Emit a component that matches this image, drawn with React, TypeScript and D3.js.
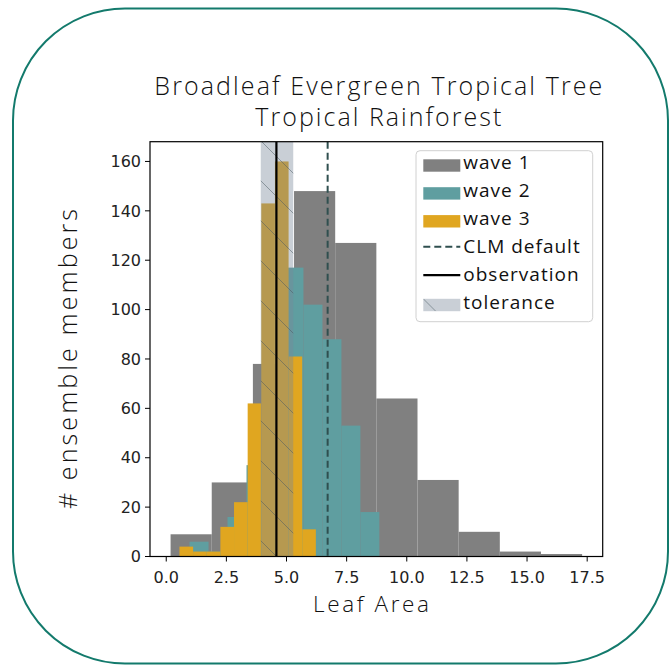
import React from "react";
import * as d3 from "d3";

// ---- data ----
const wave1Counts = [9, 30, 78, 148, 127, 64, 31, 10, 2, 1];
const wave1Range = [0.18, 17.29];
const wave2Counts = [6, 2, 16, 37, 61, 117, 102, 88, 53, 18];
const wave2Range = [0.97, 8.86];
const wave3Counts = [4, 2, 2, 12, 22, 62, 143, 160, 81, 11];
const wave3Range = [0.55, 6.22];
const clmDefault = 6.71;
const observation = 4.58;
const toleranceRange = [3.93, 5.28];
const xTicks = [0, 2.5, 5, 7.5, 10, 12.5, 15, 17.5];
const yTicks = [0, 20, 40, 60, 80, 100, 120, 140, 160];
const titleLines = ["Broadleaf Evergreen Tropical Tree", "Tropical Rainforest"];
const legendItems = ["wave 1", "wave 2", "wave 3", "CLM default", "observation", "tolerance"];

const W = 670;
const H = 666;
const M = { left: 150, right: 602.7, top: 141.7, bottom: 556.5 };

const C1 = "#808080";
const C2 = "#5f9ea0";
const C3 = "#e0a620";
const CLM = "#2f4f4f";
const TOL = "#778899";
const BORDER = "#137a6c";

function bins(counts: number[], range: number[]) {
  const w = (range[1] - range[0]) / counts.length;
  return counts.map((c, i) => ({ x0: range[0] + i * w, x1: range[0] + (i + 1) * w, c }));
}

export default function App() {
  const span = wave1Range[1] - wave1Range[0];
  const x = d3
    .scaleLinear()
    .domain([wave1Range[0] - 0.05 * span, wave1Range[1] + 0.05 * span])
    .range([M.left, M.right]);
  const y = d3.scaleLinear().domain([0, 168]).range([M.bottom, M.top]);

  const series = [
    { b: bins(wave1Counts, wave1Range), color: C1 },
    { b: bins(wave2Counts, wave2Range), color: C2 },
    { b: bins(wave3Counts, wave3Range), color: C3 },
  ];

  const tickFont = "'DejaVu Sans', sans-serif";
  const labelFont = "'Open Sans', sans-serif";

  const lgX = 416;
  const lgY = 150.7;
  const rowY = (i: number) => 165.5 + i * 27.9;
  const titleLens = [448, 246];

  return (
    <svg
      width={W}
      height={H}
      style={{ position: "absolute", left: 0, top: 0, background: "#fff" }}
    >
      <defs>
        <pattern id="hatch" patternUnits="userSpaceOnUse" width={40} height={40}>
          <path
            d="M-10,-10 L50,50 M-10,30 L10,50 M30,-10 L50,10"
            stroke="#4a5a60"
            strokeOpacity={0.5}
            strokeWidth={1}
          />
        </pattern>
        <clipPath id="plotclip">
          <rect x={M.left} y={M.top} width={M.right - M.left} height={M.bottom - M.top} />
        </clipPath>
        <clipPath id="tolclip">
          <rect x={423.3} y={rowY(5) - 6.2} width={37} height={12.4} />
        </clipPath>
      </defs>

      {/* rounded frame */}
      <rect
        x={13}
        y={8.5}
        width={655}
        height={655}
        rx={112}
        ry={112}
        fill="none"
        stroke={BORDER}
        strokeWidth={2}
      />

      {/* title */}
      {titleLines.map((t, i) => (
        <text
          key={t}
          x={(M.left + M.right) / 2 + 2}
          y={95 + i * 31}
          textAnchor="middle"
          fontFamily={labelFont}
          fontSize={25}
          fontWeight={300}
          textLength={titleLens[i]}
          lengthAdjust="spacing"
          fill="#111"
        >
          {t}
        </text>
      ))}

      {/* bars */}
      <g clipPath="url(#plotclip)">
        {series.map((s, si) =>
          s.b.map((d, i) => (
            <rect
              key={`${si}-${i}`}
              x={x(d.x0)}
              y={y(d.c)}
              width={x(d.x1) - x(d.x0)}
              height={y(0) - y(d.c)}
              fill={s.color}
            />
          ))
        )}
        {/* tolerance band */}
        <rect
          x={x(toleranceRange[0])}
          y={M.top}
          width={x(toleranceRange[1]) - x(toleranceRange[0])}
          height={M.bottom - M.top}
          fill={TOL}
          fillOpacity={0.4}
        />
        <rect
          x={x(toleranceRange[0])}
          y={M.top}
          width={x(toleranceRange[1]) - x(toleranceRange[0])}
          height={M.bottom - M.top}
          fill="url(#hatch)"
        />
        {/* CLM default */}
        <line
          x1={x(clmDefault)}
          x2={x(clmDefault)}
          y1={M.top}
          y2={M.bottom}
          stroke={CLM}
          strokeWidth={2}
          strokeDasharray="7,4"
        />
        {/* observation */}
        <line
          x1={x(observation)}
          x2={x(observation)}
          y1={M.top}
          y2={M.bottom}
          stroke="#000"
          strokeWidth={2.2}
        />
      </g>

      {/* axes frame */}
      <rect
        x={M.left}
        y={M.top}
        width={M.right - M.left}
        height={M.bottom - M.top}
        fill="none"
        stroke="#000"
        strokeWidth={1.2}
      />

      {/* x ticks */}
      {xTicks.map((t) => (
        <g key={t}>
          <line x1={x(t)} x2={x(t)} y1={M.bottom} y2={M.bottom + 5} stroke="#000" strokeWidth={1} />
          <text
            x={x(t)}
            y={M.bottom + 26}
            textAnchor="middle"
            fontFamily={tickFont}
            fontSize={16}
            fill="#222"
          >
            {t.toFixed(1)}
          </text>
        </g>
      ))}
      {/* y ticks */}
      {yTicks.map((t) => (
        <g key={t}>
          <line x1={M.left - 5} x2={M.left} y1={y(t)} y2={y(t)} stroke="#000" strokeWidth={1} />
          <text
            x={M.left - 9}
            y={y(t)}
            dy="0.36em"
            textAnchor="end"
            fontFamily={tickFont}
            fontSize={16}
            fill="#222"
          >
            {t}
          </text>
        </g>
      ))}

      {/* axis labels */}
      <text
        x={371}
        y={612}
        textAnchor="middle"
        fontFamily={labelFont}
        fontSize={22.5}
        fontWeight={300}
        textLength={116}
        lengthAdjust="spacing"
        fill="#111"
      >
        Leaf Area
      </text>
      <text
        transform={`translate(77, 359) rotate(-90)`}
        textAnchor="middle"
        fontFamily={labelFont}
        fontSize={25}
        fontWeight={300}
        textLength={300}
        lengthAdjust="spacing"
        fill="#111"
      >
        # ensemble members
      </text>

      {/* legend */}
      <rect
        x={lgX}
        y={lgY}
        width={176.7}
        height={171}
        rx={4}
        fill="#fff"
        fillOpacity={0.8}
        stroke="#d0d0d0"
        strokeWidth={1}
      />
      {legendItems.map((name, i) => {
        const cy = rowY(i);
        const hx = 423.3;
        const hw = 37;
        let handle: React.ReactNode = null;
        if (i < 3) {
          handle = <rect x={hx} y={cy - 6.2} width={hw} height={12.4} fill={[C1, C2, C3][i]} />;
        } else if (i === 3) {
          handle = (
            <line x1={hx} x2={hx + hw} y1={cy - 2.5} y2={cy - 2.5} stroke={CLM} strokeWidth={2} strokeDasharray="7,4" />
          );
        } else if (i === 4) {
          handle = <line x1={hx} x2={hx + hw} y1={cy - 2} y2={cy - 2} stroke="#000" strokeWidth={2.2} />;
        } else {
          handle = (
            <g>
              <rect x={hx} y={cy - 6.2} width={hw} height={12.4} fill={TOL} fillOpacity={0.4} />
              <g clipPath="url(#tolclip)">
                <line x1={hx} y1={cy - 6.2} x2={hx + 12.4} y2={cy + 6.2} stroke="#4a5a60" strokeOpacity={0.5} strokeWidth={1} />
              </g>
            </g>
          );
        }
        return (
          <g key={name}>
            {handle}
            <text
              x={463.3}
              y={cy - 3}
              dy="0.35em"
              fontFamily={labelFont}
              fontSize={19}
              letterSpacing={1}
              fill="#111"
            >
              {name}
            </text>
          </g>
        );
      })}
    </svg>
  );
}
